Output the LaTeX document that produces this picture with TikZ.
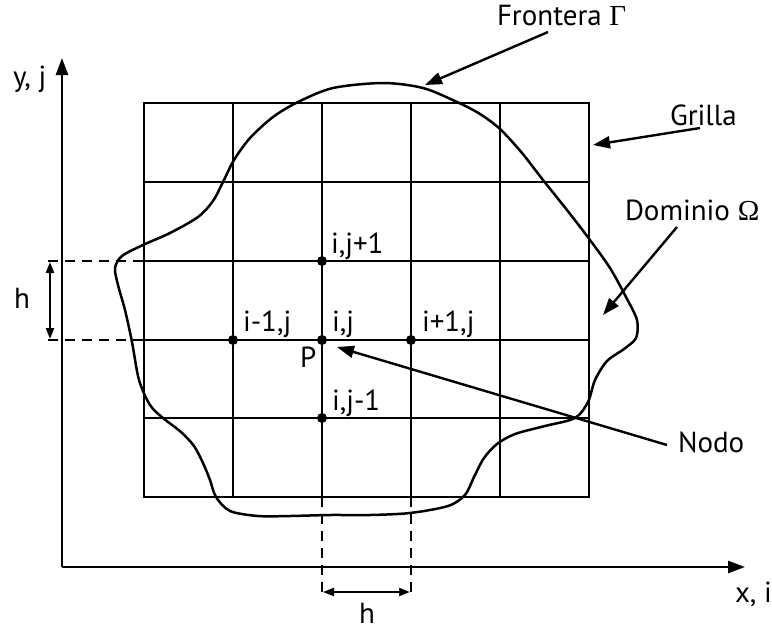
\documentclass[tikz,border=0pt]{standalone}
\usepackage{fontspec}
\setmainfont{PT Sans}
\newfontfamily\grk{Liberation Serif}
\usetikzlibrary{arrows.meta}
\begin{document}
\begin{tikzpicture}[x=1pt,y=-1pt,
  line width=2.4pt,
  lab/.style={font=\fontsize{29}{32}\selectfont, inner sep=0pt, outer sep=0pt, anchor=base west},
  dot/.style={circle, fill=black, inner sep=0pt, minimum size=10pt},
  big/.style={-{Triangle[length=17pt,width=12pt]}},
  hdim/.style={{Triangle[length=11pt,width=8pt]}-{Triangle[length=11pt,width=8pt]}, line width=2.2pt},
  dsh/.style={dash pattern=on 10pt off 7pt, line width=2.2pt}]
\useasboundingbox (0,0) rectangle (772,633);

% grid
\draw (144,103) rectangle (589,497);
\foreach \x in {233,322,411,500} \draw (\x,103) -- (\x,497);
\foreach \y in {182,261,340,418} \draw (144,\y) -- (589,\y);

% boundary
\draw[line width=2.5pt] plot[smooth cycle, tension=0.5] coordinates {
 (383,83) (423,88) (457,102) (480,114) (500,129) (522,153) (543,180)
 (567,210) (590,240) (610,268) (626,297) (637,320) (636,338) (624,349)
 (607,361) (595,380) (588,402) (575,418) (545,426) (515,434) (497,444)
 (484,458) (474,477) (465,495) (448,506) (410,513) (370,515) (330,515)
 (290,516) (258,516) (230,511) (216,497) (210,480) (203,463) (194,446)
 (181,432) (163,418) (150,405) (139,380) (132,342) (125,310) (118,285)
 (115,268) (122,256) (143,245) (170,233) (198,217) (213,201) (223,182)
 (234,160) (250,138) (273,117) (298,102) (333,88)};

% axes
\coordinate (O) at (62,567);
\coordinate (Ytop) at (62,58);
\coordinate (Xend) at (745,567);
\draw[big, line width=2.5pt] (O) -- (Ytop);
\draw[big, line width=2.5pt] (O) -- (Xend);
\node[lab] (ylab) at (13,86) {y, j};
\node[lab] (xlab) at (735,602) {x, i};

% dashed dimension lines
\coordinate (d1a) at (48,261); \coordinate (d1b) at (144,261);
\coordinate (d2a) at (48,340); \coordinate (d2b) at (144,340);
\coordinate (d3a) at (322,497); \coordinate (d3b) at (322,593);
\coordinate (d4a) at (411,497); \coordinate (d4b) at (411,593);
\draw[dsh] (d1a) -- (d1b);
\draw[dsh] (d2a) -- (d2b);
\draw[dsh] (d3a) -- (d3b);
\draw[dsh] (d4a) -- (d4b);
\coordinate (hv1) at (50,262); \coordinate (hv2) at (50,339);
\coordinate (hh1) at (323,592); \coordinate (hh2) at (410,592);
\draw[hdim] (hv1) -- (hv2);
\draw[hdim] (hh1) -- (hh2);
\node[lab, anchor=base] (hleft) at (22,308) {h};
\node[lab, anchor=base] (hbot) at (367,623) {h};

% nodes
\node[dot] (W) at (233,340) {};
\node[dot] (P) at (322,340) {};
\node[dot] (E) at (411,340) {};
\node[dot] (N) at (322,261) {};
\node[dot] (S) at (322,418) {};
\node[lab] (lN) at (331,253) {i,j+1};
\node[lab] (lW) at (243,331) {i-1,j};
\node[lab] (lP) at (332,331) {i,j};
\node[lab] (lE) at (422,331) {i+1,j};
\node[lab] (lS) at (332,410) {i,j-1};
\node[lab] (lPP) at (300,367) {P};

% callouts
\node[lab] (front) at (497,25) {Frontera {\grk Γ}};
\node[lab] (grilla) at (670,125) {Grilla};
\node[lab] (dom) at (625,220) {Dominio {\grk Ω}};
\node[lab] (nodo) at (678,452) {Nodo};
\coordinate (fa) at (548,32);  \coordinate (fb) at (425,85);
\coordinate (ga) at (700,128); \coordinate (gb) at (593,145);
\coordinate (da) at (677,227); \coordinate (db) at (603,315);
\coordinate (na) at (667,445); \coordinate (nb) at (337,347);
\draw[big] (fa) -- (fb);
\draw[big] (ga) -- (gb);
\draw[big] (da) -- (db);
\draw[big] (na) -- (nb);
\end{tikzpicture}
\end{document}
